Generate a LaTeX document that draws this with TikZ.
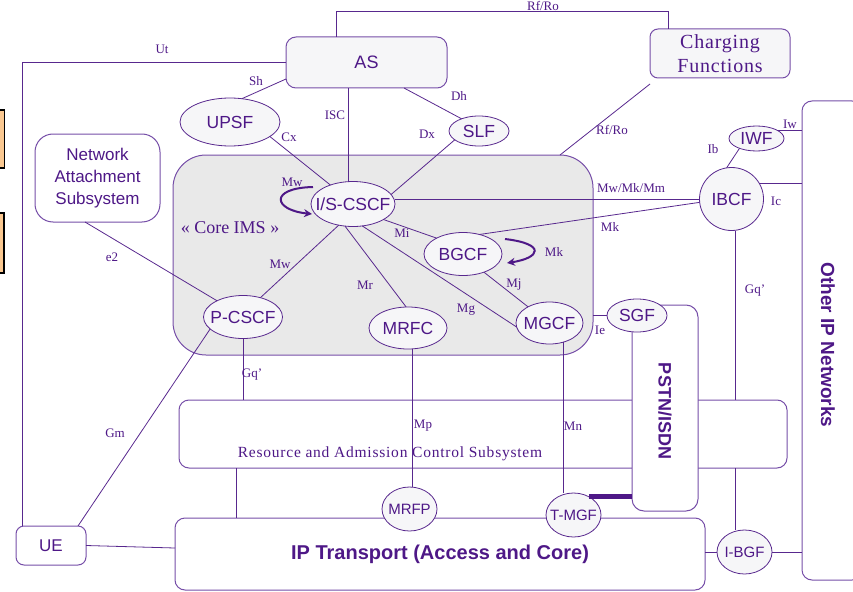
\documentclass[tikz,border=0pt]{standalone}
\usepackage{fontspec}
\setmainfont{Liberation Serif}
\newfontfamily\lsans{Liberation Sans}
\newfontfamily\spserif[LetterSpace=4]{Liberation Serif}
\newfontfamily\spserifb[LetterSpace=5]{Liberation Serif}
\usetikzlibrary{shapes.geometric,arrows.meta,calc}
\definecolor{lnc}{RGB}{88,40,142}
\definecolor{bxc}{RGB}{118,78,168}
\definecolor{txc}{RGB}{78,24,135}
\definecolor{elf}{RGB}{246,246,248}
\definecolor{coref}{RGB}{233,233,233}
\definecolor{orng}{RGB}{250,200,145}
\tikzset{
 ln/.style={draw=lnc, line width=0.8pt},
 bx/.style={draw=bxc, line width=1pt, fill=white, rounded corners=#1, inner sep=0pt, outer sep=0pt, anchor=north west, text=txc},
 bx/.default=10pt,
 ell/.style={ellipse, draw=lnc, line width=0.8pt, fill=elf, inner sep=0pt, outer sep=0pt,
   label={[text=txc, font=\lsans\fontsize{17.5}{20}\selectfont, inner sep=0pt]center:#1}},
 ells/.style={ellipse, draw=lnc, line width=0.8pt, fill=elf, inner sep=0pt, outer sep=0pt,
   label={[text=txc, font=\lsans\fontsize{15}{18}\selectfont, inner sep=0pt]center:#1}},
 lbl/.style={text=txc, font=\fontsize{13}{15}\selectfont, inner sep=0pt},
 loopar/.style={draw=txc, line width=2pt, -{Stealth[length=8pt,width=8pt]}},
}
\begin{document}
\begin{tikzpicture}[x=1pt,y=-1pt]
\useasboundingbox (0,0) rectangle (853,591);
\clip (0,0) rectangle (853,591);
% orange boxes at the left edge
\draw[fill=orng, draw=black, line width=1.2pt] (-10,110) rectangle (4.5,168);
\draw[fill=orng, draw=black, line width=1.2pt] (-10,213) rectangle (4,273);
% boxes
\node[bx, fill=coref, rounded corners=33pt, minimum width=420pt, minimum height=200pt] (core) at (173,155) {};
\node[bx, fill=elf, minimum width=161pt, minimum height=51pt, font=\lsans\fontsize{18}{20}\selectfont] (as) at (286,37) {AS};
\node[bx=8pt, fill=elf, minimum width=140pt, minimum height=49pt, align=center, font=\spserif\fontsize{20}{24}\selectfont] (chg) at (650,29) {Charging\\Functions};
\node[bx=18pt, minimum width=125pt, minimum height=88pt, align=center, font=\lsans\fontsize{17}{22}\selectfont] (nas) at (35,134) {Network\\Attachment\\Subsystem};
\node[bx, minimum width=608pt, minimum height=68pt] (rac) at (179,400) {};
\node[bx=12pt, minimum width=66pt, minimum height=206pt] (pstn) at (632,305) {};
\node[bx, minimum width=530pt, minimum height=72pt, font=\lsans\bfseries\fontsize{20}{24}\selectfont] (ipt) at (175,518) {IP Transport (Access and Core)};
\node[bx=8pt, minimum width=70pt, minimum height=39pt, font=\lsans\fontsize{17}{20}\selectfont] (ue) at (16,526) {UE};
\node[bx, minimum width=60pt, minimum height=479pt] (oip) at (802,101) {};
% texts inside boxes
\node[text=txc, font=\fontsize{18}{20}\selectfont, inner sep=0pt] (corelbl) at (230,228) {« Core IMS »};
\node[text=txc, font=\spserifb\fontsize{15.5}{18}\selectfont, inner sep=0pt] (ractxt) at (390,454) {Resource and Admission Control Subsystem};
\node[text=txc, font=\lsans\bfseries\fontsize{18}{20}\selectfont, inner sep=0pt, rotate=-90] (pstntxt) at (665,411) {PSTN/ISDN};
\node[text=txc, font=\lsans\bfseries\fontsize{19}{22}\selectfont, inner sep=0pt, rotate=-90] (oiptxt) at (828,345) {Other IP Networks};
% ellipses
\node[ell=UPSF, minimum width=100pt, minimum height=48pt] (upsf) at (230,122) {};
\node[ell=SLF, minimum width=60pt, minimum height=30pt] (slf) at (479,131) {};
\node[ell=I/S-CSCF, minimum width=84pt, minimum height=45pt] (iscscf) at (353,204) {};
\node[ell=P-CSCF, minimum width=79pt, minimum height=43pt] (pcscf) at (243,317) {};
\node[ell=MRFC, minimum width=78pt, minimum height=42pt] (mrfc) at (408,328) {};
\node[ell=BGCF, minimum width=78pt, minimum height=43pt] (bgcf) at (463,254) {};
\node[ell=MGCF, minimum width=67pt, minimum height=42pt] (mgcf) at (549.5,323) {};
\node[ell=IBCF, minimum width=64pt, minimum height=63pt] (ibcf) at (731.5,199) {};
\node[ell=IWF, minimum width=55pt, minimum height=25pt] (iwf) at (756.5,138.5) {};
\node[ell=SGF, minimum width=60pt, minimum height=33pt] (sgf) at (637,315.5) {};
\node[ells=MRFP, minimum width=55pt, minimum height=44pt] (mrfp) at (409.5,509) {};
\node[ells=T-MGF, minimum width=55pt, minimum height=44pt] (tmgf) at (573.5,515) {};
\node[ells=I-BGF, minimum width=55pt, minimum height=44pt] (ibgf) at (744.5,552) {};
% connectors
\draw[ln] ([xshift=-30pt]as.north) -- ++(0,-26) -| ([xshift=-52pt]chg.north);
\draw[ln] (as.west) -| ([xshift=6pt]ue.north west);
\draw[ln] ($(as.south west)+(0,-9)$) -- (upsf.63);
\draw[ln] (upsf.340) -- (iscscf.140);
\draw[ln] ([xshift=-5pt]iscscf.north) -- ([xshift=-5pt]iscscf.north |- as.south);
\draw[ln] ($(as.south)+(37.5,0)$) -- (slf.145);
\draw[ln] (slf.200) -- (iscscf.14);
\draw[ln] ($(chg.south west)+(0,6)$) -- ($(core.north east)+(-33,0)$);
\draw[ln] (iscscf.236) -- (pcscf.48);
\draw[ln] (iscscf.250) -- (mrfc.95);
\draw[ln] (iscscf.293) -- (mgcf.187);
\draw[ln] (iscscf.333) -- (bgcf.149);
\draw[ln] (bgcf.319) -- (mgcf.143);
\draw[ln] (iscscf.east |- ibcf.west) -- (ibcf.west);
\draw[ln] (bgcf.50) -- (ibcf.186);
\draw[ln] (ibcf.99) -- (iwf.210);
\draw[ln] (iwf.20) -- (iwf.20 -| oip.west);
\draw[ln] (ibcf.30) -- (ibcf.30 -| oip.west);
\coordinate (gqx) at ([xshift=4pt]ibcf.south);
\draw[ln] (gqx) -- (gqx |- rac.north);
\draw[ln] (gqx |- rac.south) -- (gqx |- ibgf.north);
\draw[ln] (pcscf.south) -- (pcscf.south |- rac.north);
\draw[ln] ($(nas.south west)+(50,0)$) -- (pcscf.148);
\draw[ln] (pcscf.200) -- ($(ue.north east)+(-8,0)$);
\coordinate (mpx) at ([xshift=4pt]mrfc.south);
\draw[ln] (mpx) -- (mpx |- mrfp.north);
\draw[ln] (mgcf.307) -- (mgcf.307 |- tmgf.north);
\draw[ln] (sgf.west) -- (sgf.west -| core.east);
\draw[draw=txc, line width=5pt] (tmgf.50) -- (tmgf.50 -| pstn.west);
\coordinate (racx) at ($(rac.south west)+(57,0)$);
\draw[ln] (racx) -- (racx |- ipt.north);
\draw[ln] (ue.east) -- ($(ipt.west)+(0,-6)$);
\draw[ln] (ipt.east |- ibgf.west) -- (ibgf.west);
\draw[ln] (ibgf.east) -- (ibgf.east -| oip.west);
% self loops
\draw[loopar] ($(iscscf.west)+(2,-17)$) .. controls ($(iscscf.west)+(-42,-16)$) and ($(iscscf.west)+(-38,6)$) .. ($(iscscf.west)+(1,10)$);
\draw[loopar] ($(bgcf.east)+(3,-15)$) .. controls ($(bgcf.east)+(45,-10)$) and ($(bgcf.east)+(38,4)$) .. ($(bgcf.east)+(5,9)$);
% interface labels
\node[lbl] (lrfro1) at (543,5.5) {Rf/Ro};
\node[lbl] (lut) at (162,49) {Ut};
\node[lbl] (lsh) at (256,81) {Sh};
\node[lbl] (lcx) at (289,137) {Cx};
\node[lbl] (lisc) at (335,115) {ISC};
\node[lbl] (ldh) at (459,96) {Dh};
\node[lbl] (ldx) at (427,134) {Dx};
\node[lbl] (lrfro2) at (612,130) {Rf/Ro};
\node[lbl] (lmw1) at (292,182) {Mw};
\node[lbl] (lmwkm) at (631,188) {Mw/Mk/Mm};
\node[lbl] (lmk1) at (610,227) {Mk};
\node[lbl] (lib) at (713,149) {Ib};
\node[lbl] (liw) at (790,124) {Iw};
\node[lbl] (lic) at (776,201) {Ic};
\node[lbl] (le2) at (112,257) {e2};
\node[lbl] (lmw2) at (280,264) {Mw};
\node[lbl] (lmi) at (402,233) {Mi};
\node[lbl] (lmk2) at (554,252) {Mk};
\node[lbl] (lmr) at (365,285) {Mr};
\node[lbl] (lmj) at (514,285) {Mj};
\node[lbl] (lmg) at (466,310) {Mg};
\node[lbl] (lgq1) at (755,291) {Gq'};
\node[lbl] (lie) at (600,330) {Ie};
\node[lbl] (lgq2) at (252,375) {Gq'};
\node[lbl] (lmp) at (423,426) {Mp};
\node[lbl] (lmn) at (573,426) {Mn};
\node[lbl] (lgm) at (115,433) {Gm};
\end{tikzpicture}
\end{document}
